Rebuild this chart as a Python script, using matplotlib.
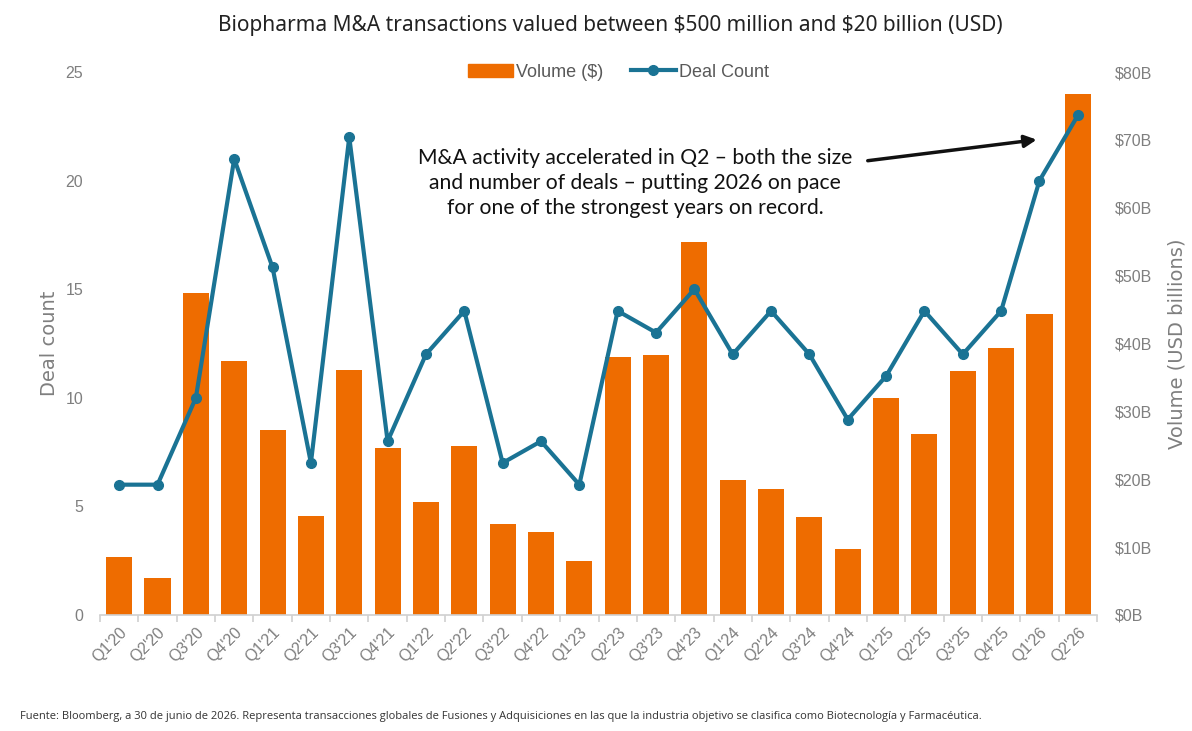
import matplotlib.pyplot as plt
import numpy as np
from matplotlib.lines import Line2D
from matplotlib.patches import Patch

quarters = ["Q1'20", "Q2'20", "Q3'20", "Q4'20", "Q1'21", "Q2'21", "Q3'21", "Q4'21",
            "Q1'22", "Q2'22", "Q3'22", "Q4'22", "Q1'23", "Q2'23", "Q3'23", "Q4'23",
            "Q1'24", "Q2'24", "Q3'24", "Q4'24", "Q1'25", "Q2'25", "Q3'25", "Q4'25",
            "Q1'26", "Q2'26"]
deal_count = [6, 6, 10, 21, 16, 7, 22, 8, 12, 14, 7, 8, 6, 14, 13, 15,
              12, 14, 12, 9, 11, 14, 12, 14, 20, 23]
volume_b = [8.5, 5.4, 47.4, 37.4, 27.2, 14.6, 36.1, 24.6, 16.6, 24.9, 13.4, 12.2, 8.0,
            38.0, 38.3, 54.9, 19.9, 18.6, 14.4, 9.7, 31.9, 26.6, 35.9, 39.3, 44.4, 76.8]

orange = '#EE6C00'
blue = '#1A7394'
grey = '#7F7F7F'

fig = plt.figure(figsize=(11.92, 7.31), dpi=100)
ax = fig.add_axes([0.0839, 0.1587, 0.8364, 0.7428])
ax2 = ax.twinx()

x = np.arange(len(quarters))
ax2.bar(x, volume_b, width=0.68, color=orange, zorder=1)
ax.plot(x, deal_count, color=blue, lw=3, marker='o', ms=7, zorder=3)
ax.set_zorder(ax2.get_zorder() + 1)
ax.patch.set_visible(False)

ax.set_xlim(-0.5, len(quarters) - 0.5)
ax.set_ylim(0, 25)
ax2.set_ylim(0, 80)
ax.set_yticks([0, 5, 10, 15, 20, 25])
ax2.set_yticks(range(0, 81, 10))
ax2.set_yticklabels([r'\$%dB' % v for v in range(0, 81, 10)])

for a in (ax, ax2):
    for s in a.spines.values():
        s.set_visible(False)
    a.tick_params(axis='y', length=0, labelsize=11.5, labelcolor=grey)
ax.spines['bottom'].set_visible(True)
ax.spines['bottom'].set_color('#D0D0D0')
ax.spines['bottom'].set_linewidth(1.2)
ax.tick_params(axis='y', pad=12)
ax2.tick_params(axis='y', pad=13)

ax.set_xticks(x)
ax.set_xticklabels(quarters, rotation=45, ha='right', rotation_mode='anchor',
                   fontsize=11.5, color=grey, family='Liberation Sans')
ax.tick_params(axis='x', length=0, pad=7)
ax.set_xticks(np.arange(-0.5, len(quarters), 1), minor=True)
ax.tick_params(axis='x', which='minor', length=5, color='#D0D0D0', width=1.2)

for lbl in ax.get_yticklabels() + ax2.get_yticklabels():
    lbl.set_family('Liberation Sans')

ax.set_ylabel('Deal count', fontsize=14, color=grey, labelpad=5)
ax2.set_ylabel('Volume (USD billions)', fontsize=14, color=grey, labelpad=11)

fig.text(0.512, 0.965, r'Biopharma M&A transactions valued between \$500 million and \$20 billion (USD)',
         ha='center', va='center', fontsize=15, color='#222222', family='Noto Sans')

handles = [Patch(color=orange), Line2D([], [], color=blue, lw=3, marker='o', ms=7)]
ax.legend(handles, [r'Volume (\$)', 'Deal Count'], loc='center', bbox_to_anchor=(0.52, 1.0),
          ncol=2, frameon=False, labelcolor='#595959', handlelength=2.5,
          handletextpad=0.2, columnspacing=1.5, prop={'family': 'Liberation Sans', 'size': 13})

ax.text(13.45, 19.9, 'M&A activity accelerated in Q2 \u2013 both the size\nand number of deals \u2013 putting 2026 on pace\nfor one of the strongest years on record.',
        ha='center', va='center', fontsize=15.2, family='Lato', linespacing=1.3, color='#111111')
ax.annotate('', xy=(24.0, 21.9), xytext=(19.45, 20.9),
            arrowprops=dict(arrowstyle='-|>', color='#111111', lw=2.5, mutation_scale=18))

fig.text(0.017, 0.02, 'Fuente: Bloomberg, a 30 de junio de 2026. Representa transacciones globales de Fusiones y Adquisiciones en las que la industria objetivo se clasifica como Biotecnolog\u00eda y Farmac\u00e9utica.',
         ha='left', va='center', fontsize=8.05, color='#333333', family='Open Sans')

fig.savefig('out.png', dpi=100)
